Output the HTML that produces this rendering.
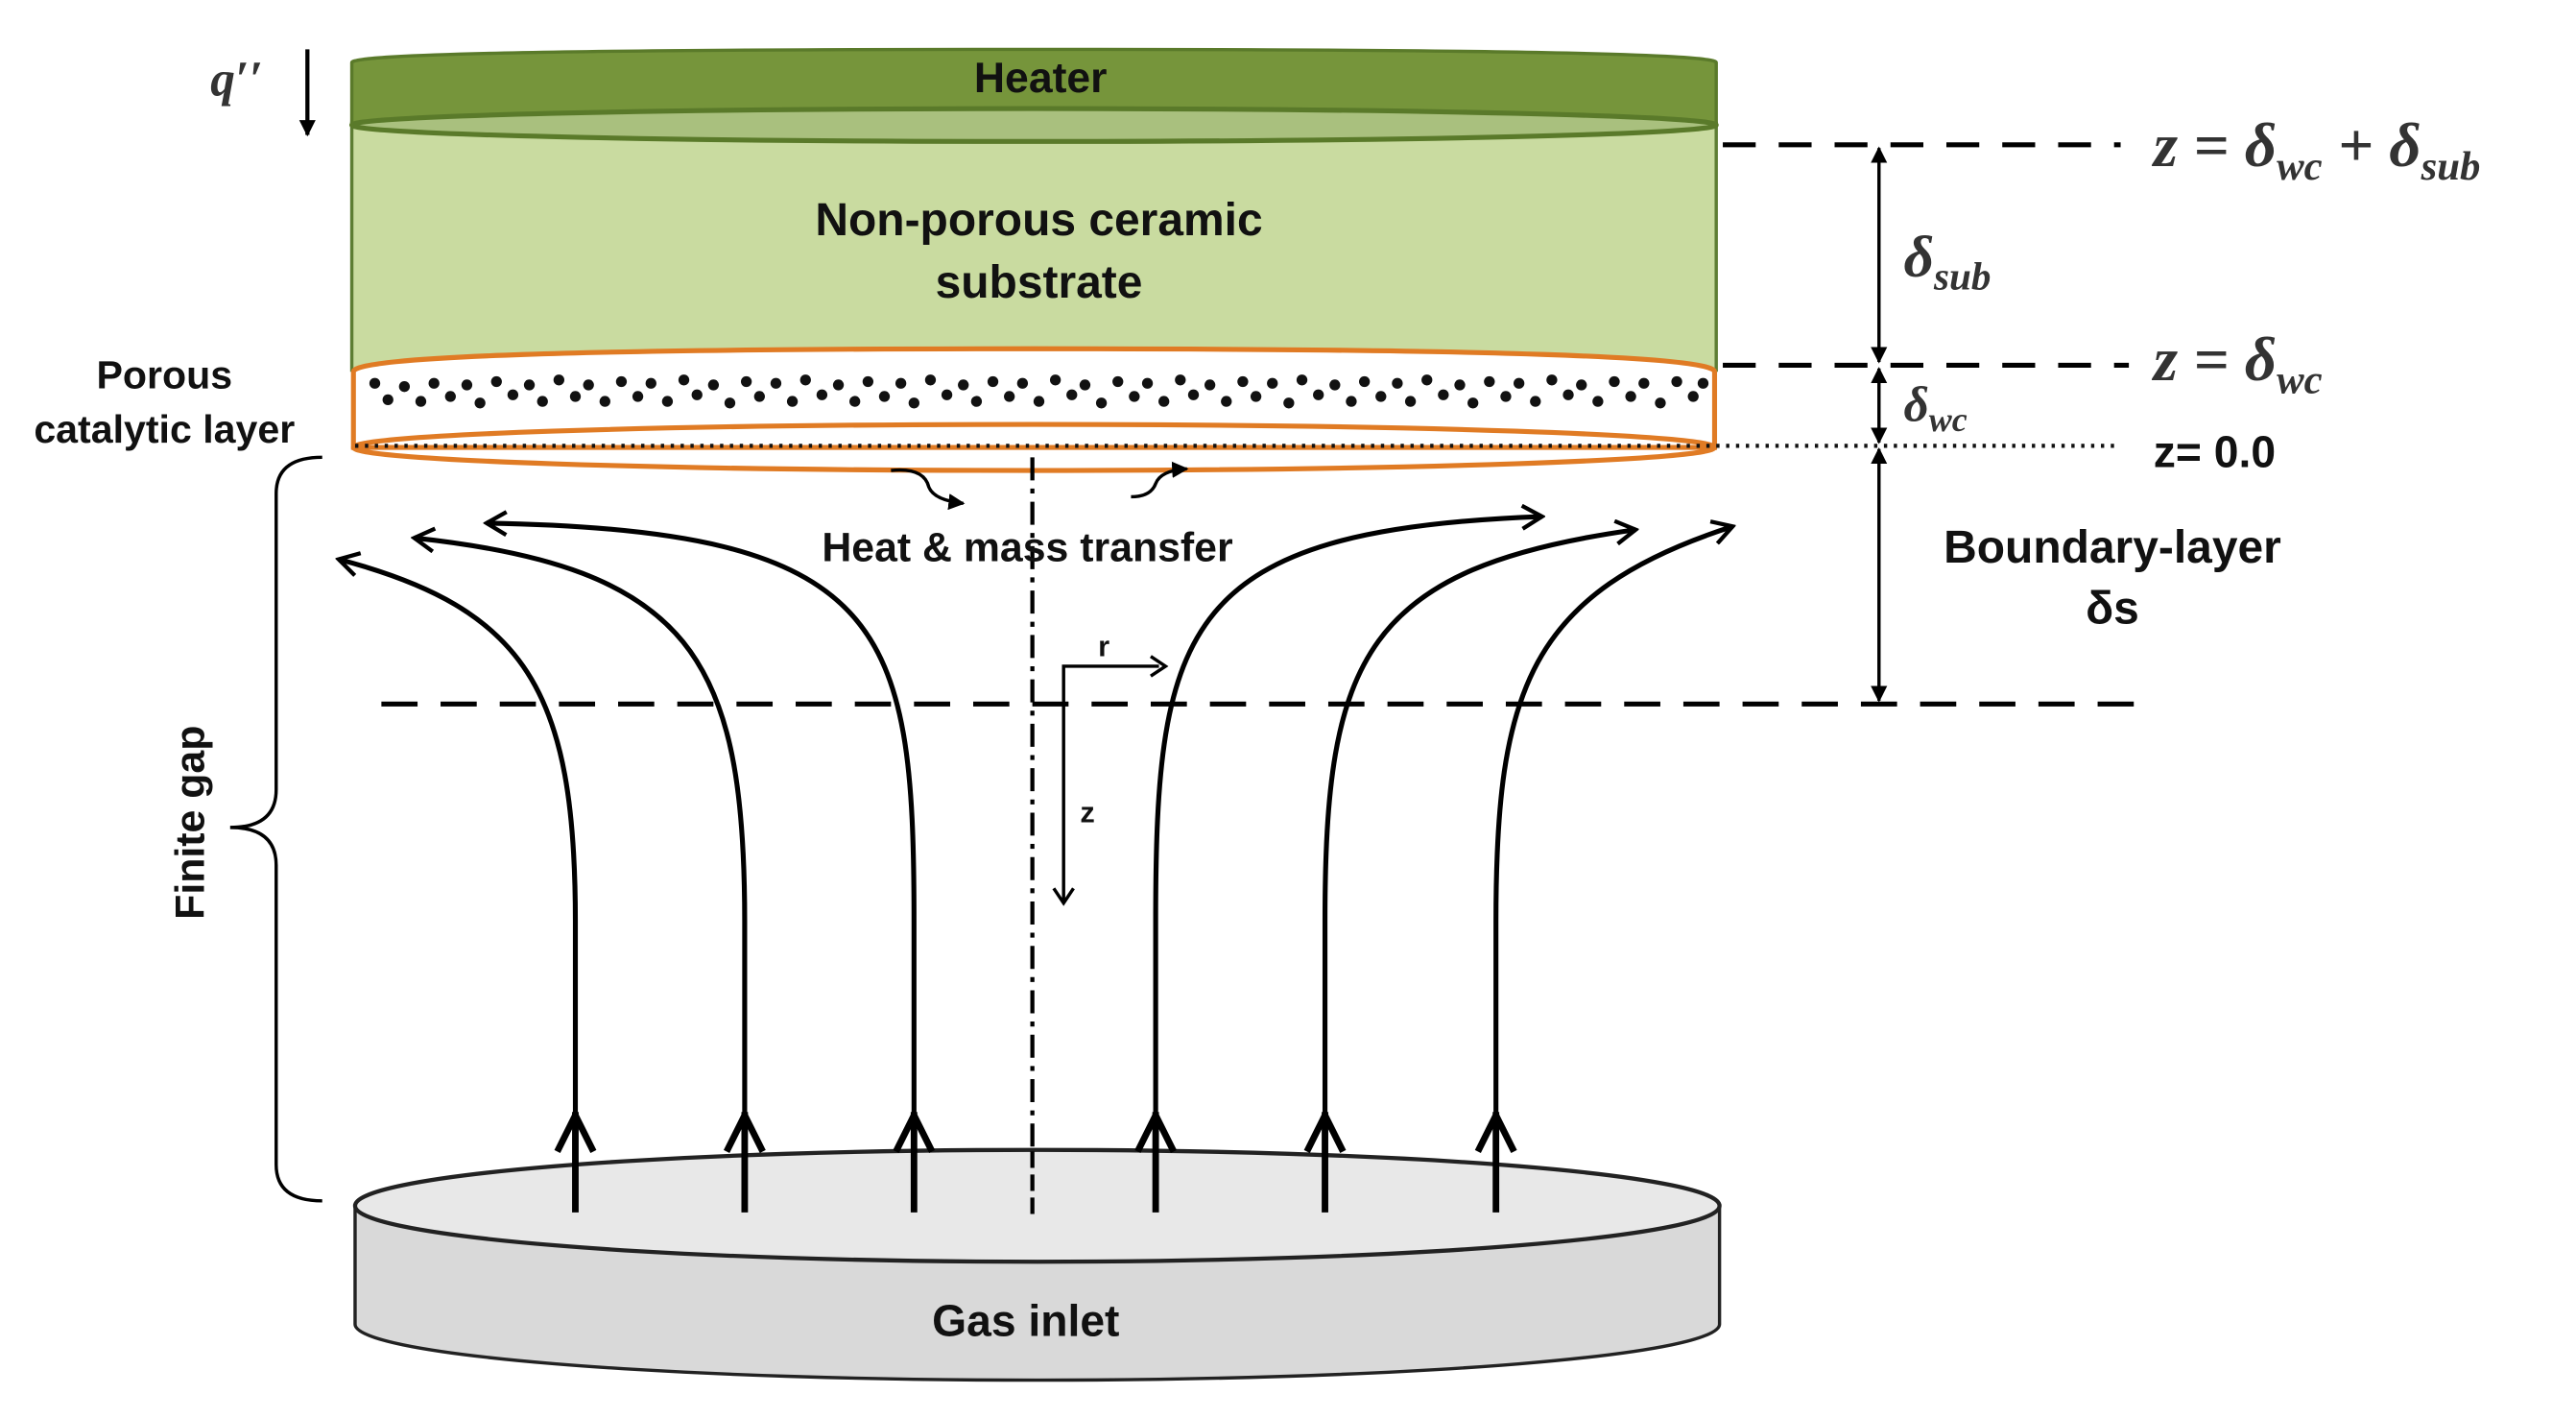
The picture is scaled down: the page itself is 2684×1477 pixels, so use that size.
<!DOCTYPE html>
<html><head><meta charset="utf-8"><style>
html,body{margin:0;padding:0;background:#fff;}
svg{display:block;}
.s{font-family:"Liberation Sans",sans-serif;font-weight:bold;fill:#111;}
.m{font-family:"Liberation Serif",serif;font-style:italic;font-weight:bold;fill:#333;}
</style></head><body>
<svg width="2684" height="1477" viewBox="0 0 1567 862" preserveAspectRatio="none" xmlns="http://www.w3.org/2000/svg">
<defs>
<marker id="ah" markerWidth="10" markerHeight="10" refX="9" refY="5" orient="auto" markerUnits="userSpaceOnUse">
<path d="M0,0 L10,5 L0,10 Z" fill="#000"/></marker>
<marker id="ahs" markerWidth="10" markerHeight="10" refX="1" refY="5" orient="auto" markerUnits="userSpaceOnUse"><path d="M10,0 L0,5 L10,10 Z" fill="#000"/></marker>
<marker id="oa" markerWidth="16" markerHeight="16" refX="14" refY="8" orient="auto" markerUnits="userSpaceOnUse">
<path d="M2,1 L14,8 L2,15" fill="none" stroke="#000" stroke-width="2.5"/></marker>
</defs>

<text x="128" y="58" class="m" font-size="30" fill="#222">q′′</text>
<line x1="187" y1="30" x2="187" y2="82" stroke="#000" stroke-width="2.5" marker-end="url(#ah)"/>

<rect x="214" y="75" width="830" height="150" fill="#c9dba0" stroke="#5d7d34" stroke-width="2"/>
<path d="M214,38 Q214,30 630,30 Q1044,30 1044,38 L1044,76 L214,76 Z" fill="#76953b" stroke="#5a7a2a" stroke-width="2"/>
<ellipse cx="629" cy="76" rx="415" ry="10" fill="#a9c07e" stroke="#5a7a2a" stroke-width="3"/>
<text x="633" y="56" class="s" font-size="26" text-anchor="middle" fill="#1f2a10">Heater</text>
<text x="632" y="143" class="s" font-size="28" text-anchor="middle" fill="#1a2a10">Non-porous ceramic</text>
<text x="632" y="181" class="s" font-size="28" text-anchor="middle" fill="#1a2a10">substrate</text>

<path d="M215,226 Q215,212 629,212 Q1043,212 1043,226 L1043,272 L215,272 Z" fill="#fff" stroke="#e07b24" stroke-width="3"/>
<ellipse cx="629" cy="272" rx="414" ry="14" fill="none" stroke="#e07b24" stroke-width="3"/>
<line x1="216" y1="271" x2="1290" y2="271" stroke="#111" stroke-width="2.5" stroke-dasharray="2,4"/>

<text x="100" y="236" class="s" font-size="24" text-anchor="middle" fill="#222">Porous</text>
<text x="100" y="269" class="s" font-size="24" text-anchor="middle" fill="#222">catalytic layer</text>

<line x1="1048" y1="88" x2="1290" y2="88" stroke="#000" stroke-width="3" stroke-dasharray="20,14"/>
<line x1="1048" y1="222" x2="1295" y2="222" stroke="#000" stroke-width="3" stroke-dasharray="20,14"/>
<line x1="232" y1="428" x2="1305" y2="428" stroke="#000" stroke-width="3" stroke-dasharray="22,14"/>

<line x1="1143" y1="90" x2="1143" y2="220" stroke="#000" stroke-width="2" marker-start="url(#ahs)" marker-end="url(#ah)"/>
<line x1="1143" y1="224" x2="1143" y2="269" stroke="#000" stroke-width="2" marker-start="url(#ahs)" marker-end="url(#ah)"/>
<line x1="1143" y1="273" x2="1143" y2="426" stroke="#000" stroke-width="2" marker-start="url(#ahs)" marker-end="url(#ah)"/>

<text x="1310" y="101" class="m" font-size="38">z = δ<tspan font-size="25" dy="8">wc</tspan><tspan dy="-8"> + δ</tspan><tspan font-size="25" dy="8">sub</tspan></text>
<text x="1158" y="168" class="m" font-size="36">δ<tspan font-size="24" dy="8">sub</tspan></text>
<text x="1310" y="231" class="m" font-size="38">z = δ<tspan font-size="25" dy="8">wc</tspan></text>
<text x="1158" y="256" class="m" font-size="30">δ<tspan font-size="21" dy="6">wc</tspan></text>
<text x="1310" y="284" class="s" font-size="27" fill="#111">z= 0.0</text>
<text x="1285" y="342" class="s" font-size="28" text-anchor="middle" fill="#111">Boundary-layer</text>
<text x="1285" y="379" class="s" font-size="28" text-anchor="middle" fill="#111">δs</text>

<line x1="628" y1="278" x2="628" y2="742" stroke="#000" stroke-width="2.5" stroke-dasharray="14,5,3,5"/>
<text x="625" y="341" class="s" font-size="25" text-anchor="middle" fill="#111">Heat &amp; mass transfer</text>
<path d="M542,286 Q562,284 565,296 Q568,304 586,306" fill="none" stroke="#000" stroke-width="2" marker-end="url(#ah)"/>
<path d="M688,302 Q700,302 703,294 Q706,286 722,285" fill="none" stroke="#000" stroke-width="2" marker-end="url(#ah)"/>

<polyline points="647,548 647,405 705,405" fill="none" stroke="#000" stroke-width="2"/>
<path d="M700,399 L709,405 L700,411" fill="none" stroke="#000" stroke-width="2"/>
<path d="M641,540 L647,549 L653,540" fill="none" stroke="#000" stroke-width="2"/>
<text x="668" y="399" class="s" font-size="18" fill="#111">r</text>
<text x="657" y="500" class="s" font-size="18" fill="#111">z</text>

<path d="M196,278 Q168,278 168,300 L168,480 Q168,503 140,503 Q168,503 168,526 L168,708 Q168,730 196,730" fill="none" stroke="#000" stroke-width="2"/>
<text transform="translate(124,500) rotate(-90)" class="s" font-size="25" text-anchor="middle" fill="#111">Finite gap</text>

<g fill="none" stroke="#000" stroke-width="3">
<path d="M350,737 L350,560 C350,420 320,370 206,340" marker-end="url(#oa)"/>
<path d="M453,737 L453,560 C453,400 420,345 252,327" marker-end="url(#oa)"/>
<path d="M556,737 L556,560 C556,380 540,322 296,318" marker-end="url(#oa)"/>
<path d="M703,737 L703,560 C703,380 720,322 938,314" marker-end="url(#oa)"/>
<path d="M806,737 L806,560 C806,400 830,345 995,322" marker-end="url(#oa)"/>
<path d="M910,737 L910,560 C910,420 930,360 1054,320" marker-end="url(#oa)"/>
</g>

<path d="M216,733 L216,805 A415,34 0 0 0 1046,805 L1046,733 Z" fill="#d9d9d9" stroke="#222" stroke-width="2"/>
<ellipse cx="631" cy="733" rx="415" ry="34" fill="#e8e8e8" stroke="#222" stroke-width="2.5"/>
<g stroke="#000" stroke-width="4" fill="none">
<line x1="350" y1="737" x2="350" y2="676"/><line x1="453" y1="737" x2="453" y2="676"/><line x1="556" y1="737" x2="556" y2="676"/>
<line x1="703" y1="737" x2="703" y2="676"/><line x1="806" y1="737" x2="806" y2="676"/><line x1="910" y1="737" x2="910" y2="676"/>
<path d="M339,700 L350,678 L361,700"/><path d="M442,700 L453,678 L464,700"/><path d="M545,700 L556,678 L567,700"/>
<path d="M692,700 L703,678 L714,700"/><path d="M795,700 L806,678 L817,700"/><path d="M899,700 L910,678 L921,700"/>
</g>
<line x1="628" y1="700" x2="628" y2="742" stroke="#000" stroke-width="2.5" stroke-dasharray="10,4"/>
<text x="624" y="812" class="s" font-size="27" text-anchor="middle" fill="#111">Gas inlet</text>

<g fill="#111">
<circle cx="228" cy="233" r="3.3"/><circle cx="236" cy="243" r="3.3"/><circle cx="246" cy="235" r="3.3"/><circle cx="256" cy="244" r="3.3"/><circle cx="264" cy="233" r="3.3"/><circle cx="274" cy="241" r="3.3"/><circle cx="284" cy="234" r="3.3"/><circle cx="292" cy="245" r="3.3"/><circle cx="302" cy="232" r="3.3"/><circle cx="312" cy="240" r="3.3"/><circle cx="322" cy="234" r="3.3"/><circle cx="330" cy="244" r="3.3"/><circle cx="340" cy="231" r="3.3"/><circle cx="350" cy="241" r="3.3"/><circle cx="358" cy="234" r="3.3"/><circle cx="368" cy="244" r="3.3"/><circle cx="378" cy="232" r="3.3"/><circle cx="388" cy="241" r="3.3"/><circle cx="396" cy="233" r="3.3"/><circle cx="406" cy="244" r="3.3"/><circle cx="416" cy="231" r="3.3"/><circle cx="424" cy="240" r="3.3"/><circle cx="434" cy="234" r="3.3"/><circle cx="444" cy="245" r="3.3"/><circle cx="454" cy="232" r="3.3"/><circle cx="462" cy="241" r="3.3"/><circle cx="472" cy="233" r="3.3"/><circle cx="482" cy="244" r="3.3"/><circle cx="490" cy="231" r="3.3"/><circle cx="500" cy="240" r="3.3"/><circle cx="510" cy="234" r="3.3"/><circle cx="520" cy="244" r="3.3"/><circle cx="528" cy="232" r="3.3"/><circle cx="538" cy="241" r="3.3"/><circle cx="548" cy="233" r="3.3"/><circle cx="556" cy="245" r="3.3"/><circle cx="566" cy="231" r="3.3"/><circle cx="576" cy="240" r="3.3"/><circle cx="586" cy="234" r="3.3"/><circle cx="594" cy="244" r="3.3"/><circle cx="604" cy="232" r="3.3"/><circle cx="614" cy="241" r="3.3"/><circle cx="622" cy="233" r="3.3"/><circle cx="632" cy="244" r="3.3"/><circle cx="642" cy="231" r="3.3"/><circle cx="652" cy="240" r="3.3"/><circle cx="660" cy="234" r="3.3"/><circle cx="670" cy="245" r="3.3"/><circle cx="680" cy="232" r="3.3"/><circle cx="690" cy="241" r="3.3"/><circle cx="698" cy="233" r="3.3"/><circle cx="708" cy="244" r="3.3"/><circle cx="718" cy="231" r="3.3"/><circle cx="726" cy="240" r="3.3"/><circle cx="736" cy="234" r="3.3"/><circle cx="746" cy="244" r="3.3"/><circle cx="756" cy="232" r="3.3"/><circle cx="764" cy="241" r="3.3"/><circle cx="774" cy="233" r="3.3"/><circle cx="784" cy="245" r="3.3"/><circle cx="792" cy="231" r="3.3"/><circle cx="802" cy="240" r="3.3"/><circle cx="812" cy="234" r="3.3"/><circle cx="822" cy="244" r="3.3"/><circle cx="830" cy="232" r="3.3"/><circle cx="840" cy="241" r="3.3"/><circle cx="850" cy="233" r="3.3"/><circle cx="858" cy="244" r="3.3"/><circle cx="868" cy="231" r="3.3"/><circle cx="878" cy="240" r="3.3"/><circle cx="888" cy="234" r="3.3"/><circle cx="896" cy="245" r="3.3"/><circle cx="906" cy="232" r="3.3"/><circle cx="916" cy="241" r="3.3"/><circle cx="924" cy="233" r="3.3"/><circle cx="934" cy="244" r="3.3"/><circle cx="944" cy="231" r="3.3"/><circle cx="954" cy="240" r="3.3"/><circle cx="962" cy="234" r="3.3"/><circle cx="972" cy="244" r="3.3"/><circle cx="982" cy="232" r="3.3"/><circle cx="992" cy="241" r="3.3"/><circle cx="1000" cy="233" r="3.3"/><circle cx="1010" cy="245" r="3.3"/><circle cx="1020" cy="232" r="3.3"/><circle cx="1030" cy="241" r="3.3"/><circle cx="1036" cy="233" r="3.3"/>
</g>
</svg>
</body></html>
